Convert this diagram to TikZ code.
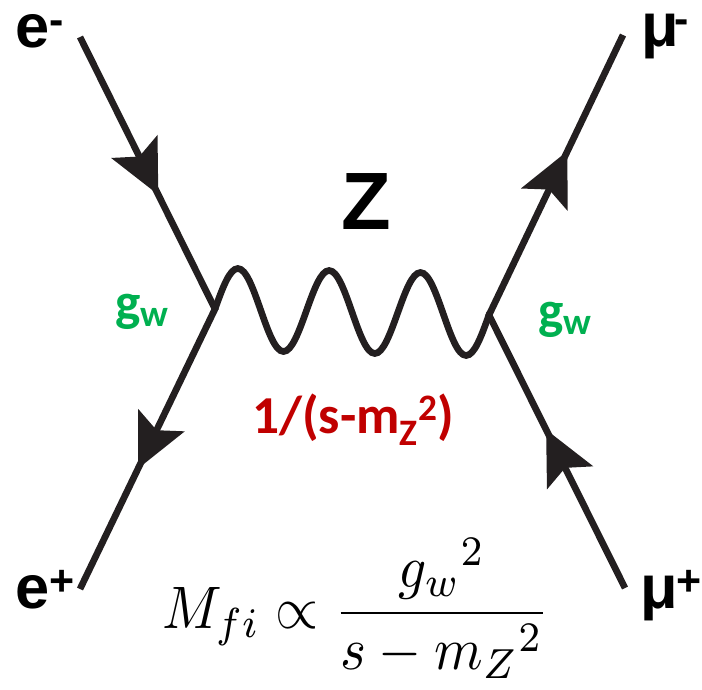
\documentclass[tikz,border=0pt]{standalone}
\usepackage{amsmath}
\usepackage{graphicx}
\usepackage{fontspec}
\setsansfont{Liberation Sans}
\newfontfamily\calibrifont{Carlito}
\usepackage{xcolor}
\usepackage{tikz}
\usetikzlibrary{arrows.meta,positioning,decorations.markings}
\definecolor{linegray}{RGB}{35,31,32}
\definecolor{gwgreen}{RGB}{0,176,80}
\definecolor{propred}{RGB}{192,0,0}

\begin{document}
\begin{tikzpicture}[
  x=0.75pt, y=-0.75pt,
  particle/.style={font=\fontsize{46}{50}\selectfont\sffamily\bfseries, inner sep=0pt},
  coupling/.style={font=\fontsize{40}{44}\selectfont\calibrifont\bfseries, text=gwgreen, inner sep=0pt},
  fermions/.style 2 args={line width=5pt, draw=linegray, postaction={decorate},
    decoration={markings,
      mark=at position #1 with {\arrow{Stealth[length=40pt, width=38pt, inset=8pt]}},
      mark=at position #2 with {\arrow{Stealth[length=40pt, width=38pt, inset=8pt]}}}},
  boson/.style={line width=5pt, draw=linegray}
]
\useasboundingbox (0,0) rectangle (702,689);
% vertices and outer ends
\coordinate (vl) at (215,309);
\coordinate (vr) at (489,315);
\coordinate (em) at (80,37);
\coordinate (ep) at (80,589);
\coordinate (mm) at (623,35);
\coordinate (mp) at (625,588);
% fermion lines
\draw[fermions={0.2866}{0.7826}] (em) -- (vl) -- (ep);
\draw[fermions={0.2875}{0.791}] (mp) -- (vr) -- (mm);
% Z propagator, three periods
\draw[boson] (vl) \foreach \k in {1,2,3} {
    sin ++(22.83,-40.5) cos ++(22.83,41.5) sin ++(22.83,41.5) cos ++(22.83,-40.5)} -- (vr);
% labels
\node[particle, anchor=base west] (elab) at (15,47) {e\textsuperscript{-}};
\node[particle, anchor=base west] (plab) at (15,608) {e\textsuperscript{+}};
\node[particle, anchor=base west] (mmlab) at (641,46) {μ\kern-3pt\textsuperscript{-}};
\node[particle, anchor=base west] (mplab) at (640,608) {μ\kern-1pt\textsuperscript{+}};
\node[particle, font=\fontsize{61}{64}\selectfont\sffamily\bfseries] (zlab) at (366,202) {Z};
\node[coupling, anchor=base west] (gl) at (115,320) {g\textsubscript{w}};
\node[coupling, anchor=base west] (gr) at (538,328) {g\textsubscript{w}};
\node[coupling, text=propred, anchor=base west] (prop) at (252,433) {1/(s-m\textsubscript{Z}\textsuperscript{2})};
\node[inner sep=0pt, anchor=base west] (amp) at (162,628)
  {\scalebox{4.15}[4.5]{$M_{fi}\propto\dfrac{{g_w}^2}{s-{m_Z}^2}$}};
\end{tikzpicture}
\end{document}
